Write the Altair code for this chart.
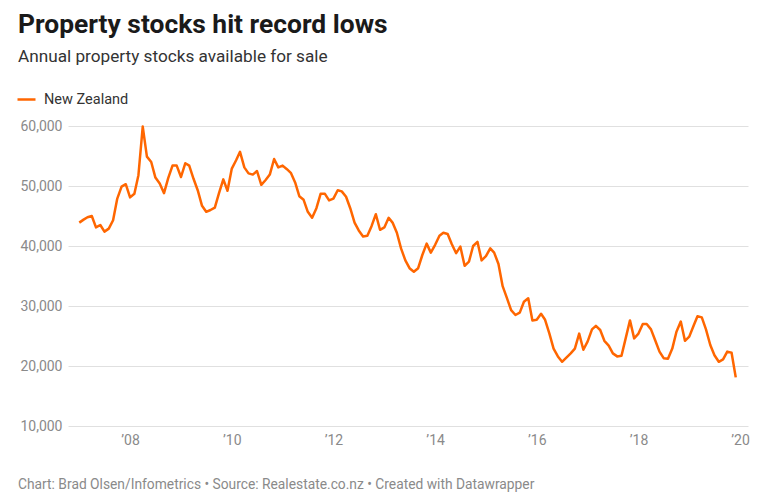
import altair as alt
import pandas as pd

# Monthly stock (thousands), Jan 2007 - Dec 2019
stock_k = [
    43.9, 44.4, 44.8, 45.0, 43.1, 43.5, 42.4, 42.9, 44.3, 47.9, 49.9, 50.3,
    48.1, 48.7, 51.8, 59.9, 54.9, 54.0, 51.4, 50.4, 48.8, 51.3, 53.4, 53.4,
    51.5, 53.8, 53.4, 51.2, 49.3, 46.7, 45.7, 46.0, 46.4, 48.8, 51.1, 49.2,
    52.9, 54.3, 55.7, 53.1, 52.1, 51.9, 52.5, 50.2, 51.0, 51.9, 54.5, 53.1,
    53.4, 52.8, 52.2, 50.6, 48.3, 47.7, 45.7, 44.7, 46.3, 48.7, 48.7, 47.6,
    47.9, 49.3, 49.1, 48.2, 46.3, 43.9, 42.6, 41.6, 41.7, 43.3, 45.3, 42.7,
    43.1, 44.7, 43.9, 42.2, 39.6, 37.6, 36.3, 35.7, 36.3, 38.5, 40.4, 38.9,
    40.2, 41.7, 42.2, 42.0, 40.3, 38.8, 39.9, 36.7, 37.4, 40.0, 40.7, 37.6,
    38.3, 39.6, 38.9, 37.0, 33.3, 31.3, 29.3, 28.5, 28.9, 30.7, 31.3, 27.6,
    27.7, 28.7, 27.7, 25.4, 22.9, 21.6, 20.7, 21.4, 22.1, 22.9, 25.4, 22.7,
    24.1, 26.1, 26.7, 26.0, 24.2, 23.4, 22.1, 21.6, 21.7, 24.6, 27.6, 24.6,
    25.4, 27.0, 27.0, 26.1, 24.3, 22.4, 21.3, 21.2, 22.9, 25.7, 27.4, 24.2,
    24.9, 26.7, 28.3, 28.1, 26.1, 23.5, 21.8, 20.7, 21.1, 22.4, 22.2, 18.1,
]
series_name = "New Zealand"
x_tick_years = [2008, 2010, 2012, 2014, 2016, 2018, 2020]
y_ticks = [10000, 20000, 30000, 40000, 50000, 60000]

title_text = "Property stocks hit record lows"
subtitle_text = "Annual property stocks available for sale"
footer_text = "Chart: Brad Olsen/Infometrics • Source: Realestate.co.nz • Created with Datawrapper"

dates = pd.date_range("2007-01-01", periods=len(stock_k), freq="MS")
df = pd.DataFrame({
    "date": dates.strftime("%Y-%m-%dT00:00:00"),
    "stock": [v * 1000 for v in stock_k],
    "series": series_name,
})

FONT = "Roboto"
ORANGE = "#ff6600"
GREY = "#8a8a8a"

line = alt.Chart(df).mark_line(strokeWidth=2.5, strokeJoin="round").encode(
    x=alt.X(
        "date:T",
        title=None,
        scale=alt.Scale(domain=[
            alt.DateTime(year=2006, month=10, date=12),
            alt.DateTime(year=2020, month=2, date=27),
        ]),
        axis=alt.Axis(
            values=[alt.DateTime(year=y, month=1, date=1) for y in x_tick_years],
            format="’%y", grid=False, ticks=False, domain=False,
            labelPadding=7, labelFontSize=14, labelColor=GREY, labelFont=FONT,
        ),
    ),
    y=alt.Y(
        "stock:Q",
        title=None,
        scale=alt.Scale(domain=[10000, 60000], nice=False, zero=False),
        axis=alt.Axis(
            values=y_ticks, format=",d", ticks=False, domain=False,
            gridColor="#e0e0e0", gridWidth=1,
            labelPadding=6, labelFontSize=14, labelColor=GREY, labelFont=FONT,
        ),
    ),
    color=alt.Color(
        "series:N",
        scale=alt.Scale(domain=[series_name], range=[ORANGE]),
        legend=alt.Legend(
            title=None, orient="none", legendX=-52, legendY=-37,
            symbolType="stroke", symbolStrokeWidth=2.5, symbolSize=324,
            labelFontSize=14.5, labelColor="#333333", labelFont=FONT,
            labelOffset=7,
        ),
    ),
)

def text_layer(txt, x, y, size, color, weight="normal"):
    return alt.Chart(pd.DataFrame({"t": [txt]})).mark_text(
        align="left", baseline="alphabetic", font=FONT, fontSize=size,
        color=color, fontWeight=weight,
    ).encode(text="t:N", x=alt.value(x), y=alt.value(y))

title = text_layer(title_text, -50, -93, 26.4, "#1a1a1a", "bold")
subtitle = text_layer(subtitle_text, -50, -64, 17.2, "#333333")
footer = text_layer(footer_text, -50, 363, 13.8, GREY)

chart = alt.layer(line, title, subtitle, footer).properties(
    width=680, height=300,
    autosize=alt.AutoSizeParams(type="none"),
    padding={"left": 60, "top": 118, "right": 13, "bottom": 66},
    background="white",
).configure_view(stroke=None)

chart.save("out.html", embed_options={"renderer": "svg", "actions": False})
